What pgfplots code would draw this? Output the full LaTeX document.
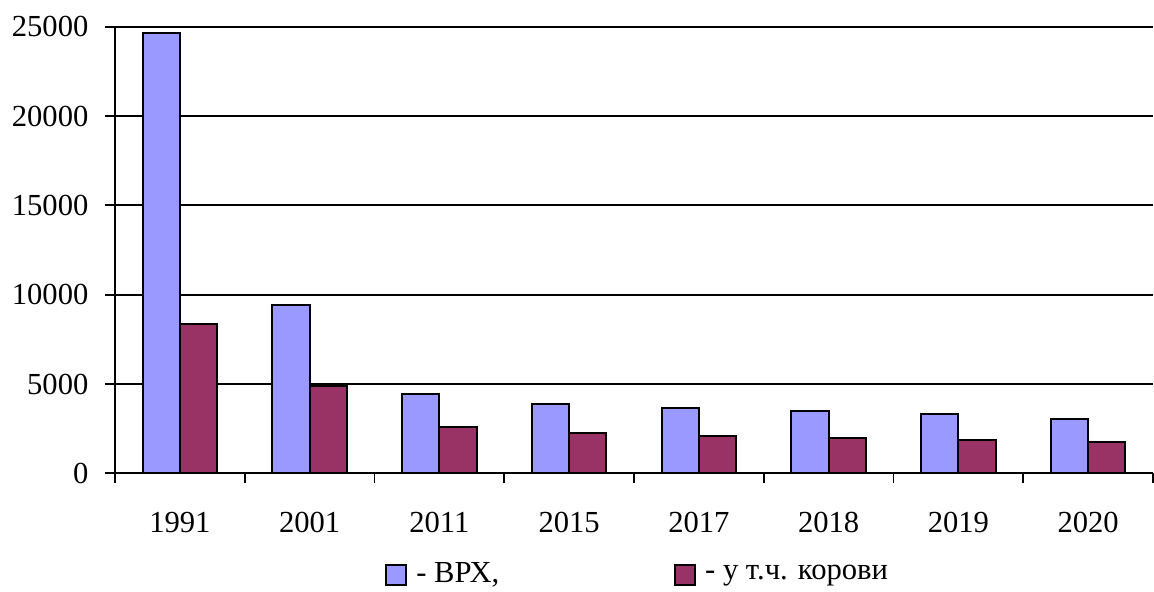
\documentclass[border=0pt]{standalone}
\usepackage{pgfplots}
\pgfplotsset{compat=1.18}
\usepackage{fontspec}
\setmainfont{Liberation Serif}
\newfontfamily\cyr[Script=Cyrillic]{Liberation Serif}

\definecolor{vrh}{HTML}{9999FF}
\definecolor{korovy}{HTML}{993366}

\begin{document}
\fontsize{15.3}{18}\selectfont
\begin{tikzpicture}
\begin{axis}[
  at={(0,0)}, anchor=south west,
  scale only axis, width=519pt, height=223.3pt,
  ybar=0pt, bar width=0.287,
  xmin=-0.5, xmax=7.5, ymin=0, ymax=25000,
  axis lines=left, axis line style={-, line width=0.9pt},
  xtick={0,...,7},
  xticklabels={1991,2001,2011,2015,2017,2018,2019,2020},
  minor xtick={-0.5,0.5,...,7.5},
  ytick={0,5000,...,25000},
  tick align=outside,
  major tick length=5pt, minor tick length=5pt,
  major x tick style={draw=none},
  minor x tick style={black, line width=0.9pt},
  major y tick style={black, line width=0.9pt},
  ymajorgrids, grid style={black, line width=0.9pt},
  scaled y ticks=false,
  /pgf/number format/.cd, 1000 sep={}, assume math mode=true, /pgfplots/.cd,
  tick label style={font=\fontsize{15.3}{18}\selectfont},
  xticklabel style={yshift=-9pt},
  yticklabel style={xshift=-3pt},
  legend style={at={(0.2601,0)}, anchor=west, yshift=-50.85pt,
    draw=none, fill=none, inner sep=0pt, legend columns=2,
    font=\cyr\fontsize{15.3}{18}\selectfont,
    /tikz/every odd column/.append style={column sep=2.5pt},
    /tikz/every even column/.append style={column sep=85.5pt}},
  legend image code/.code={\draw[#1, line width=1pt] (0pt,-5pt) rectangle (10pt,5pt);},
]
\addplot[fill=vrh, draw=black, line width=1pt] coordinates {
  (0,24620) (1,9400) (2,4460) (3,3880) (4,3650) (5,3500) (6,3320) (7,3040)
};
\addlegendentry{- ВРХ,}
\addplot[fill=korovy, draw=black, line width=1pt] coordinates {
  (0,8360) (1,4890) (2,2610) (3,2240) (4,2090) (5,1980) (6,1860) (7,1770)
};
\addlegendentry{- у т.ч. корови}
\end{axis}
\pgfresetboundingbox
\path (-57.5pt,-59.35pt) rectangle (519.5pt,236.65pt);
\end{tikzpicture}
\end{document}
